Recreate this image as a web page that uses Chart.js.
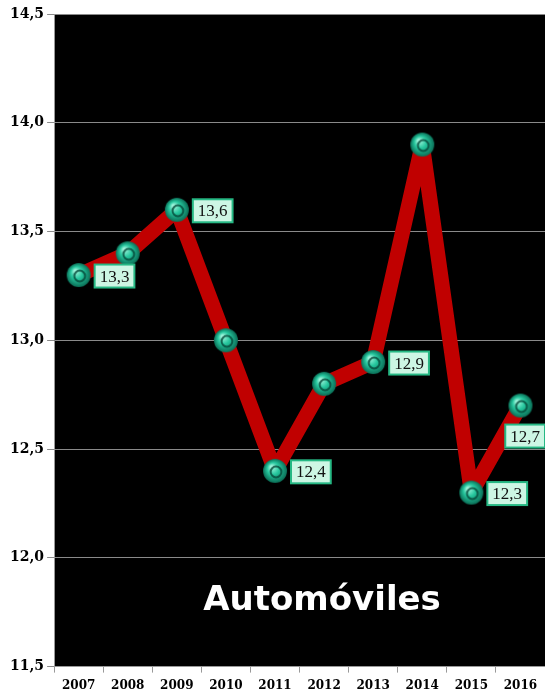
<!DOCTYPE html>
<html>
<head>
<meta charset="utf-8">
<script src="https://cdn.jsdelivr.net/npm/chart.js@4"></script>
<style>
  html, body { margin: 0; padding: 0; background: #fff; }
  #chart { display: block; }
</style>
</head>
<body>
<canvas id="chart" width="545" height="694"></canvas>
<script>
/* ===============================
   DATA
================================ */
const years = ["2007", "2008", "2009", "2010", "2011", "2012", "2013", "2014", "2015", "2016"];
const values = [13.3, 13.4, 13.6, 13.0, 12.4, 12.8, 12.9, 13.9, 12.3, 12.7];
const labelled = [true, false, true, false, true, false, true, false, true, true];
const chartTitle = "Automóviles";

const fmt = (v) => v.toFixed(1).replace(".", ",");

/* ===============================
   POINT IMAGE (teal bead)
================================ */
function makeBead(r) {
  const c = document.createElement("canvas");
  c.width = c.height = r * 2 + 2;
  const g = c.getContext("2d");
  const cx = r + 1, cy = r + 1;
  const grad = g.createRadialGradient(cx - r * 0.3, cy - r * 0.35, 1, cx, cy, r);
  grad.addColorStop(0, "#9ff5dc");
  grad.addColorStop(0.45, "#26c79e");
  grad.addColorStop(1, "#0b6f57");
  g.fillStyle = grad;
  g.beginPath();
  g.arc(cx, cy, r, 0, Math.PI * 2);
  g.fill();
  g.strokeStyle = "rgba(5,70,55,0.8)";
  g.lineWidth = 2;
  g.beginPath();
  g.arc(cx + 1, cy + 1, r * 0.45, 0, Math.PI * 2);
  g.stroke();
  return c;
}
const bead = makeBead(12);

/* ===============================
   PLUGINS
================================ */
const blackArea = {
  id: "blackArea",
  beforeDraw(chart) {
    const { ctx, chartArea: a } = chart;
    ctx.save();
    ctx.fillStyle = "#000";
    ctx.fillRect(a.left, a.top, a.right - a.left, a.bottom - a.top);
    ctx.restore();
  },
};

const valueBoxes = {
  id: "valueBoxes",
  afterDatasetsDraw(chart) {
    const { ctx } = chart;
    const meta = chart.getDatasetMeta(0);
    ctx.save();
    ctx.font = '17px "Liberation Serif", serif';
    ctx.textBaseline = "middle";
    meta.data.forEach((pt, i) => {
      if (!labelled[i]) return;
      const txt = fmt(values[i]);
      const w = ctx.measureText(txt).width + 10;
      const h = 23;
      let x = pt.x + 16;
      let y = pt.y - h / 2 + 1;
      if (x + w > chart.width) {
        x = chart.width - w;
        y = pt.y + 19;
      }
      ctx.fillStyle = "#cdf6e4";
      ctx.fillRect(x, y, w, h);
      ctx.strokeStyle = "#26b884";
      ctx.lineWidth = 2;
      ctx.strokeRect(x, y, w, h);
      ctx.fillStyle = "#111";
      ctx.fillText(txt, x + 5, y + h / 2 + 1);
    });

    ctx.font = 'bold 34px "DejaVu Sans", sans-serif';
    ctx.fillStyle = "#fff";
    ctx.textAlign = "center";
    ctx.fillText(chartTitle, 322, 601);
    ctx.restore();
  },
};

/* ===============================
   CHART
================================ */
const tickFont = { family: '"DejaVu Serif", serif', weight: "bold", size: 12 };

new Chart(document.getElementById("chart"), {
  type: "line",
  data: {
    labels: years,
    datasets: [
      {
        data: values,
        borderColor: "#c00000",
        borderWidth: 15,
        borderJoinStyle: "round",
        tension: 0,
        pointStyle: bead,
        pointRadius: 12,
        pointHoverRadius: 12,
      },
    ],
  },
  options: {
    responsive: false,
    maintainAspectRatio: false,
    animation: false,
    layout: { autoPadding: false, padding: { top: 14, left: 7, right: 0, bottom: -5 } },
    plugins: {
      legend: { display: false },
      tooltip: { enabled: false },
    },
    scales: {
      x: {
        offset: true,
        grid: {
          offset: true,
          drawOnChartArea: false,
          color: "#999",
          tickLength: 6,
        },
        border: { color: "#999" },
        ticks: { color: "#000", font: tickFont, padding: 6, maxRotation: 0 },
      },
      y: {
        min: 11.5,
        max: 14.5,
        grid: { color: "#8a8a8a", tickLength: 7 },
        border: { color: "#999" },
        ticks: {
          stepSize: 0.5,
          color: "#000",
          font: { ...tickFont, size: 14 },
          padding: 3,
          callback: (v) => fmt(v),
        },
      },
    },
  },
  plugins: [blackArea, valueBoxes],
});
</script>
</body>
</html>
